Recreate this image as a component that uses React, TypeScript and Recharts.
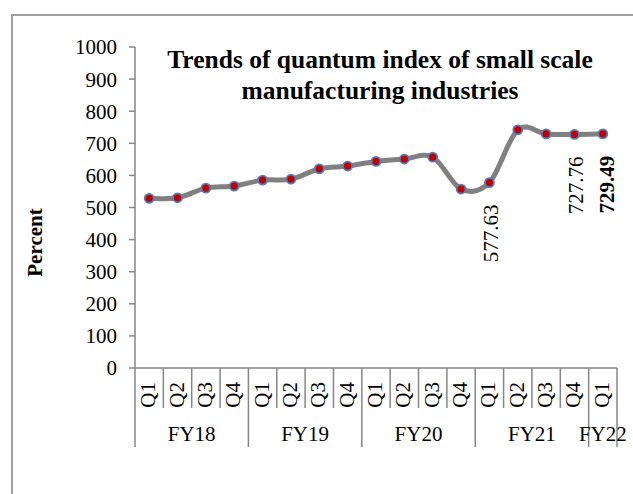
import React from 'react';
import { LineChart, Line, XAxis, YAxis, LabelList } from 'recharts';

const fiscalYears = ['FY18', 'FY18', 'FY18', 'FY18', 'FY19', 'FY19', 'FY19', 'FY19', 'FY20', 'FY20', 'FY20', 'FY20', 'FY21', 'FY21', 'FY21', 'FY21', 'FY22'];
const quarters = ['Q1', 'Q2', 'Q3', 'Q4', 'Q1', 'Q2', 'Q3', 'Q4', 'Q1', 'Q2', 'Q3', 'Q4', 'Q1', 'Q2', 'Q3', 'Q4', 'Q1'];
const indexValues = [528.6, 530.2, 560.4, 566.8, 585.3, 588.1, 620.5, 629.2, 643.6, 651.0, 656.9, 557.5, 577.63, 741.9, 729.3, 727.76, 729.49];
const pointLabels = ['', '', '', '', '', '', '', '', '', '', '', '', '577.63', '', '', '727.76', '729.49'];
const boldLabels = [false, false, false, false, false, false, false, false, false, false, false, false, false, false, false, false, true];
const yTicks = [0, 100, 200, 300, 400, 500, 600, 700, 800, 900, 1000];
const titleLines = ['Trends of quantum index of small scale', 'manufacturing industries'];
const yLabel = 'Percent';

const data = indexValues.map((v, i) => ({ key: `${fiscalYears[i]}|${quarters[i]}`, value: v }));

const W = 633;
const H = 494;
const MARGIN = { top: 47, right: 16, left: 0, bottom: 46 };
const YAXIS_W = 135;
const XAXIS_H = 80;
const PLOT_W = W - MARGIN.right - MARGIN.left - YAXIS_W;
const STEP = PLOT_W / data.length;
const FONT = '"Liberation Serif", "Times New Roman", serif';
const AXIS_COLOR = '#868686';
const FS = 21;

function excelCurve(context: any) {
  let pts: number[][] = [];
  return {
    areaStart() {},
    areaEnd() {},
    lineStart() { pts = []; },
    point(x: number, y: number) { pts.push([+x, +y]); },
    lineEnd() {
      if (!pts.length) return;
      context.moveTo(pts[0][0], pts[0][1]);
      for (let i = 0; i < pts.length - 1; i++) {
        const p0 = pts[i - 1] || pts[i];
        const p1 = pts[i];
        const p2 = pts[i + 1];
        const p3 = pts[i + 2] || pts[i + 1];
        context.bezierCurveTo(
          p1[0] + (p2[0] - p0[0]) / 6, p1[1] + (p2[1] - p0[1]) / 6,
          p2[0] - (p3[0] - p1[0]) / 6, p2[1] - (p3[1] - p1[1]) / 6,
          p2[0], p2[1]
        );
      }
    },
  };
}

const CategoryTick = (props: any) => {
  const { x, y, payload } = props;
  const i = props.index ?? payload.index;
  const [fy, q] = String(payload.value).split('|');
  const left = x - STEP / 2;
  const right = x + STEP / 2;
  const groupStart = i === 0 || fiscalYears[i - 1] !== fy;
  let count = 0;
  if (groupStart) {
    for (let k = i; k < fiscalYears.length && fiscalYears[k] === fy; k++) count++;
  }
  const isLast = i === data.length - 1;
  return (
    <g>
      <line x1={left} x2={left} y1={y} y2={y + (groupStart ? 79 : 40)} stroke={AXIS_COLOR} strokeWidth={1.5} />
      {isLast && <line x1={right} x2={right} y1={y} y2={y + 79} stroke={AXIS_COLOR} strokeWidth={1.5} />}
      <text
        x={x - 1}
        y={y + 14}
        transform={`rotate(-90, ${x - 1}, ${y + 14})`}
        textAnchor="end"
        dominantBaseline="central"
        fontFamily={FONT}
        fontSize={FS}
        fill="#000"
      >
        {q}
      </text>
      {groupStart && (
        <text
          x={left + (count * STEP) / 2}
          y={y + 73}
          textAnchor="middle"
          fontFamily={FONT}
          fontSize={FS}
          fill="#000"
        >
          {fy}
        </text>
      )}
    </g>
  );
};

const PointLabel = (props: any) => {
  const { x, y, index } = props;
  const text = pointLabels[index];
  if (!text) return null;
  const ax = x + (boldLabels[index] ? 4 : 2);
  const ay = y + 22;
  return (
    <text
      x={ax}
      y={ay}
      transform={`rotate(-90, ${ax}, ${ay})`}
      textAnchor="end"
      dominantBaseline="central"
      fontFamily={FONT}
      fontSize={FS}
      fontWeight={boldLabels[index] ? 'bold' : 'normal'}
      fill="#000"
    >
      {text}
    </text>
  );
};

const YLabel = (props: any) => {
  const vb = props.viewBox;
  const cx = vb.x + 35;
  const cy = vb.y + vb.height / 2 + 35;
  return (
    <text
      x={cx}
      y={cy}
      transform={`rotate(-90, ${cx}, ${cy})`}
      textAnchor="middle"
      dominantBaseline="central"
      fontFamily={FONT}
      fontSize={FS}
      fontWeight="bold"
      fill="#000"
    >
      {yLabel}
    </text>
  );
};

export default function App() {
  return (
    <div style={{ position: 'absolute', left: 0, top: 0, width: W, height: H, background: '#fff', overflow: 'hidden' }}>
      <div
        style={{
          position: 'absolute',
          left: 11,
          top: 14,
          width: 800,
          height: 700,
          border: '2px solid #a0a0a0',
          boxSizing: 'border-box',
        }}
      />
      <div style={{ position: 'absolute', left: 0, top: 0 }}>
        <LineChart width={W} height={H} data={data} margin={MARGIN}>
          <XAxis
            dataKey="key"
            height={XAXIS_H}
            interval={0}
            padding={{ left: STEP / 2, right: STEP / 2 }}
            tickLine={false}
            tickSize={0}
            tickMargin={0}
            tick={<CategoryTick />}
            stroke={AXIS_COLOR}
            strokeWidth={1.5}
          />
          <YAxis
            width={YAXIS_W}
            domain={[0, 1000]}
            ticks={yTicks}
            interval={0}
            tickSize={6}
            tickMargin={12}
            stroke={AXIS_COLOR}
            strokeWidth={1.5}
            tick={{ fill: '#000', fontFamily: FONT, fontSize: FS }}
            label={<YLabel />}
          />
          <Line
            dataKey="value"
            type={excelCurve as any}
            stroke="#808080"
            strokeWidth={5}
            isAnimationActive={false}
            dot={{ r: 4.5, fill: '#C00000', stroke: '#4F81BD', strokeWidth: 1.8 }}
            activeDot={false}
          >
            <LabelList dataKey="value" content={<PointLabel />} />
          </Line>
        </LineChart>
      </div>
      <div
        style={{
          position: 'absolute',
          left: 80,
          top: 44,
          width: 600,
          textAlign: 'center',
          fontFamily: FONT,
          fontWeight: 'bold',
          fontSize: 25.5,
          lineHeight: '31px',
          color: '#000',
        }}
      >
        {titleLines.map((t) => (
          <div key={t}>{t}</div>
        ))}
      </div>
    </div>
  );
}
